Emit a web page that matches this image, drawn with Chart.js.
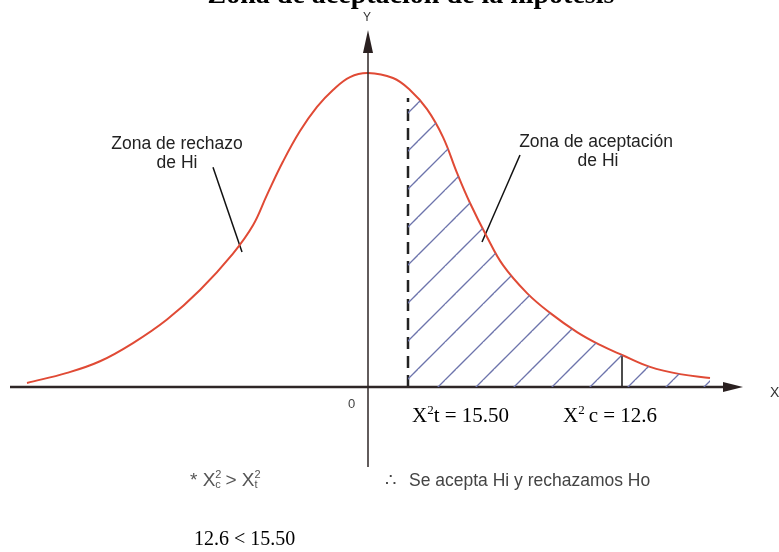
<!DOCTYPE html>
<html>
<head>
<meta charset="utf-8">
<script src="https://cdn.jsdelivr.net/npm/chart.js@4.4.1/dist/chart.umd.min.js"></script>
<style>
html, body { margin: 0; padding: 0; background: #fff; }
#wrap { width: 779px; height: 552px; }
</style>
</head>
<body>
<div id="wrap"><canvas id="grafica" width="779" height="552"></canvas></div>
<script>
// Curva: x en desviaciones (0 = eje Y), y normalizada al pico
const curvaX = [-3.41, -3.01, -2.68, -2.35, -2.01, -1.68, -1.35, -1.15, -1.01, -0.85, -0.68, -0.51, -0.35, -0.18, 0,
  0.25, 0.42, 0.59, 0.75, 0.89, 1.02, 1.19, 1.35, 1.59, 1.82, 2.09, 2.32, 2.54, 2.82, 3.12, 3.42];
const curvaY = [0.013, 0.045, 0.082, 0.140, 0.215, 0.309, 0.425, 0.515, 0.612, 0.718, 0.815, 0.892, 0.946, 0.987, 1.0,
  0.984, 0.946, 0.885, 0.796, 0.682, 0.586, 0.478, 0.388, 0.299, 0.236, 0.175, 0.134, 0.102, 0.064, 0.041, 0.029];

// valores críticos marcados
const xTabla = 0.40, yTabla = 0.952, topeDiscontinua = 0.92;
const xCalc = 2.54, yCalc = 0.102;

// flechas de las etiquetas [desde, hasta]
const flechaRechazo = [[-1.55, 0.70], [-1.26, 0.43]];
const flechaAceptacion = [[1.52, 0.739], [1.14, 0.462]];

// ejes
const ejeX = [-3.58, 3.57];
const ejeY = [-0.255, 1.07];
const puntaX = 3.75, puntaY = 1.137;

const pts = (xs, ys) => xs.map((x, i) => ({ x: x, y: ys[i] }));
const curva = pts(curvaX, curvaY);
const zonaAceptacion = [{ x: xTabla, y: yTabla }].concat(curva.filter(p => p.x > xTabla));

// patrón rayado
function rayado() {
  const t = 38;
  const c = document.createElement("canvas");
  c.width = t; c.height = t;
  const g = c.getContext("2d");
  g.strokeStyle = "#6d74ac";
  g.lineWidth = 1.3;
  [-11, 27, 65].forEach(k => {
    g.beginPath();
    g.moveTo(0, k);
    g.lineTo(k, 0);
    g.stroke();
  });
  return g.createPattern(c, "repeat");
}

const linea = (data, color, width, extra) => Object.assign({
  data: data, borderColor: color, borderWidth: width, pointRadius: 0, fill: false, tension: 0
}, extra || {});

const textos = {
  id: "textos",
  afterDraw(chart) {
    const ctx = chart.ctx;
    const sx = chart.scales.x, sy = chart.scales.y;
    const X = v => sx.getPixelForValue(v), Y = v => sy.getPixelForValue(v);
    ctx.save();

    // puntas de flecha
    ctx.fillStyle = "#2a2020";
    ctx.beginPath();
    ctx.moveTo(X(puntaX), Y(0));
    ctx.lineTo(X(ejeX[1]) - 2, Y(0) - 5);
    ctx.lineTo(X(ejeX[1]) - 2, Y(0) + 5);
    ctx.closePath();
    ctx.fill();
    ctx.beginPath();
    ctx.moveTo(X(0), Y(puntaY));
    ctx.lineTo(X(0) - 5, Y(ejeY[1]) + 2);
    ctx.lineTo(X(0) + 5, Y(ejeY[1]) + 2);
    ctx.closePath();
    ctx.fill();

    // título (recortado por el borde superior)
    ctx.fillStyle = "#000";
    ctx.font = "bold 28px 'Liberation Serif'";
    ctx.textAlign = "center";
    ctx.textBaseline = "alphabetic";
    ctx.fillText("Zona de aceptación de la hipótesis", 411, 3);

    // nombres de ejes
    ctx.fillStyle = "#333";
    ctx.font = "12px 'Liberation Sans'";
    ctx.textBaseline = "middle";
    ctx.fillText("Y", X(0) - 1, 18);
    ctx.textAlign = "left";
    ctx.font = "14px 'Liberation Sans'";
    ctx.fillText("X", 770, Y(0) + 6);
    ctx.font = "13px 'Liberation Sans'";
    ctx.fillStyle = "#444";
    ctx.fillText("0", X(0) - 20, Y(0) + 17);

    // etiquetas de zonas
    ctx.fillStyle = "#222";
    ctx.font = "17.5px 'Liberation Sans'";
    ctx.textAlign = "center";
    ctx.textBaseline = "alphabetic";
    ctx.fillText("Zona de rechazo", 177, 149);
    ctx.fillText("de Hi", 177, 168);
    ctx.fillText("Zona de aceptación", 596, 147);
    ctx.fillText("de Hi", 598, 166);

    // texto con superíndice
    function sup(partes, x, y, size, font, color) {
      ctx.fillStyle = color;
      ctx.textAlign = "left";
      let cx = x;
      partes.forEach(p => {
        if (p.s) {
          ctx.font = Math.round(size * 0.6) + "px " + font;
          ctx.fillText(p.s, cx, y - size * 0.4);
          let w = ctx.measureText(p.s).width;
          if (p.b) {
            ctx.fillText(p.b, cx, y + size * 0.1);
            w = Math.max(w, ctx.measureText(p.b).width);
          }
          cx += w + (p.gap || 0);
        } else {
          ctx.font = size + "px " + font;
          ctx.fillText(p.t, cx, y);
          cx += ctx.measureText(p.t).width;
        }
      });
    }
    const serif = "'Liberation Serif'";
    sup([{ t: "X" }, { s: "2" }, { t: "t = 15.50" }], 412, 422, 21, serif, "#000");
    sup([{ t: "X" }, { s: "2", gap: 4 }, { t: "c = 12.6" }], 563, 422, 21, serif, "#000");

    const sans = "'Liberation Sans'";
    sup([{ t: "* " }, { t: "X" }, { s: "2", b: "c", gap: 4 }, { t: "> X" }, { s: "2", b: "t" }], 190, 486, 19, sans, "#555");
    ctx.fillStyle = "#444";
    ctx.font = "17.5px " + sans;
    ctx.textAlign = "left";
    ctx.fillText("∴", 385, 486);
    ctx.fillText("Se acepta Hi y rechazamos Ho", 409, 486);

    ctx.fillStyle = "#000";
    ctx.font = "20px " + serif;
    ctx.fillText("12.6 < 15.50", 194, 545);
    ctx.restore();
  }
};

new Chart(document.getElementById("grafica"), {
  type: "line",
  data: {
    datasets: [
      linea(zonaAceptacion, "transparent", 0, { fill: "origin", backgroundColor: rayado(), tension: 0.4 }),
      linea([{ x: ejeX[0], y: 0 }, { x: ejeX[1], y: 0 }], "#2e2626", 2.5),
      linea([{ x: 0, y: ejeY[0] }, { x: 0, y: ejeY[1] }], "#2e2626", 1.5),
      linea(curva, "#e04a35", 2, { tension: 0.4 }),
      linea([{ x: xTabla, y: 0 }, { x: xTabla, y: topeDiscontinua }], "#222", 2.5, { borderDash: [12, 7] }),
      linea([{ x: xCalc, y: 0 }, { x: xCalc, y: yCalc }], "#111", 1.5),
      linea(flechaRechazo.map(p => ({ x: p[0], y: p[1] })), "#111", 1.5),
      linea(flechaAceptacion.map(p => ({ x: p[0], y: p[1] })), "#111", 1.5)
    ]
  },
  options: {
    responsive: false,
    animation: false,
    layout: { padding: 0 },
    plugins: { legend: { display: false }, tooltip: { enabled: false }, title: { display: false } },
    scales: {
      x: { type: "linear", min: -3.68, max: 4.11, display: false },
      y: { type: "linear", min: -0.5255, max: 1.2325, display: false }
    }
  },
  plugins: [textos]
});
</script>
</body>
</html>
